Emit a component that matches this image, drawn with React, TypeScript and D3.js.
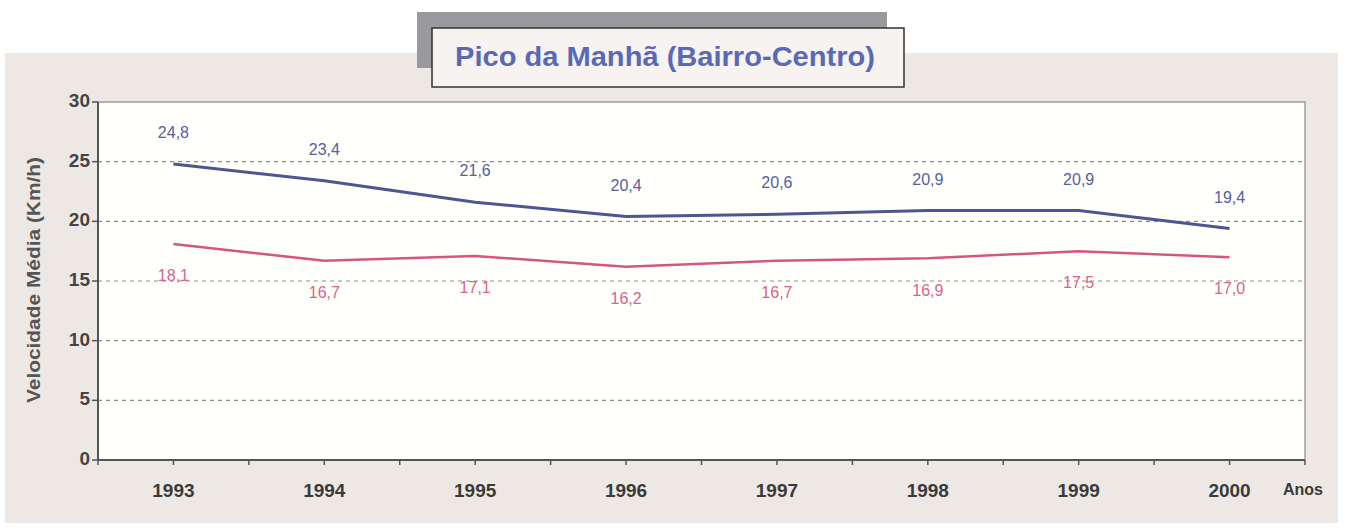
import React from "react";
import * as d3 from "d3";

const years = ["1993", "1994", "1995", "1996", "1997", "1998", "1999", "2000"];
const blueValues = [24.8, 23.4, 21.6, 20.4, 20.6, 20.9, 20.9, 19.4];
const pinkValues = [18.1, 16.7, 17.1, 16.2, 16.7, 16.9, 17.5, 17.0];
const yTicks = [0, 5, 10, 15, 20, 25, 30];
const title = "Pico da Manhã (Bairro-Centro)";
const yTitle = "Velocidade Média (Km/h)";
const xTitle = "Anos";

const W = 1346, H = 529;
const left = 98, right = 1305, top = 102, bottom = 460;
const BLUE = "#4d5690";
const PINK = "#d4567f";
const FONT = "Arial, 'Liberation Sans', sans-serif";

export default function App() {
  const x = d3.scaleBand<string>().domain(years).range([left, right]).padding(0);
  const y = d3.scaleLinear().domain([0, 30]).range([bottom, top]);
  const cx = (d: string) => (x(d) as number) + x.bandwidth() / 2;
  const fmt = (v: number) => v.toFixed(1).replace(".", ",");

  const line = d3
    .line<number>()
    .x((_, i) => cx(years[i]))
    .y((v) => y(v));

  const halfTicks: number[] = [];
  for (let i = 0; i <= years.length * 2; i++) halfTicks.push(left + (i * x.bandwidth()) / 2);

  return (
    <svg width={W} height={H} style={{ position: "absolute", left: 0, top: 0 }} fontFamily={FONT}>
      <rect x={0} y={0} width={W} height={H} fill="#ffffff" />
      <rect x={5} y={53} width={1333} height={470} fill="#eee8e5" />
      {/* title box */}
      <rect x={417} y={12} width={470} height={56} fill="#9a9a9e" />
      <rect x={432} y={28} width={472} height={59} fill="#f6f3f1" stroke="#333" strokeWidth={1.5} />
      <text x={665} y={59} textAnchor="middle" dominantBaseline="middle" fontSize={27} fontWeight="bold" fill="#5a69b4" textLength={420} lengthAdjust="spacingAndGlyphs">
        {title}
      </text>
      {/* plot area */}
      <rect x={left} y={top} width={right - left} height={bottom - top} fill="#fffffb" stroke="#8a8a8a" strokeWidth={1.2} />
      {yTicks.filter((t) => t > 0 && t < 30).map((t) => (
        <line key={t} x1={left} x2={right} y1={y(t)} y2={y(t)} stroke="#8c8c8c" strokeWidth={1.2} strokeDasharray="4,4" />
      ))}
      {/* y axis */}
      <line x1={left} x2={left} y1={top} y2={bottom} stroke="#555" strokeWidth={2} />
      {yTicks.map((t) => (
        <g key={t}>
          <line x1={left - 6} x2={left} y1={y(t)} y2={y(t)} stroke="#555" strokeWidth={1.5} />
          <text x={left - 8} y={y(t)} textAnchor="end" dominantBaseline="middle" fontSize={19} fontWeight="bold" fill="#444">
            {t}
          </text>
        </g>
      ))}
      <text
        transform={`translate(35,280) rotate(-90)`}
        textAnchor="middle"
        dominantBaseline="middle"
        fontSize={18}
        fontWeight="bold"
        fill="#555"
        textLength={246}
        lengthAdjust="spacingAndGlyphs"
      >
        {yTitle}
      </text>
      {/* x axis */}
      <line x1={left} x2={right} y1={bottom} y2={bottom} stroke="#555" strokeWidth={2} />
      {halfTicks.map((t, i) => (
        <line key={i} x1={t} x2={t} y1={bottom} y2={bottom + 5} stroke="#555" strokeWidth={1.5} />
      ))}
      {years.map((yr) => (
        <text key={yr} x={cx(yr)} y={492} textAnchor="middle" dominantBaseline="middle" fontSize={19} fontWeight="bold" fill="#3a3a3a">
          {yr}
        </text>
      ))}
      <text x={1303} y={491} textAnchor="middle" dominantBaseline="middle" fontSize={16} fontWeight="bold" fill="#3a3a3a">
        {xTitle}
      </text>
      {/* lines */}
      <path d={line(blueValues) || ""} fill="none" stroke={BLUE} strokeWidth={3} />
      <path d={line(pinkValues) || ""} fill="none" stroke={PINK} strokeWidth={2.5} />
      {/* labels */}
      {blueValues.map((v, i) => (
        <text key={"b" + i} x={cx(years[i])} y={y(v) - 30} textAnchor="middle" dominantBaseline="middle" fontSize={16} fill="#56609a">
          {fmt(v)}
        </text>
      ))}
      {pinkValues.map((v, i) => (
        <text key={"p" + i} x={cx(years[i])} y={y(v) + 33} textAnchor="middle" dominantBaseline="middle" fontSize={16} fill="#d8638a">
          {fmt(v)}
        </text>
      ))}
    </svg>
  );
}
